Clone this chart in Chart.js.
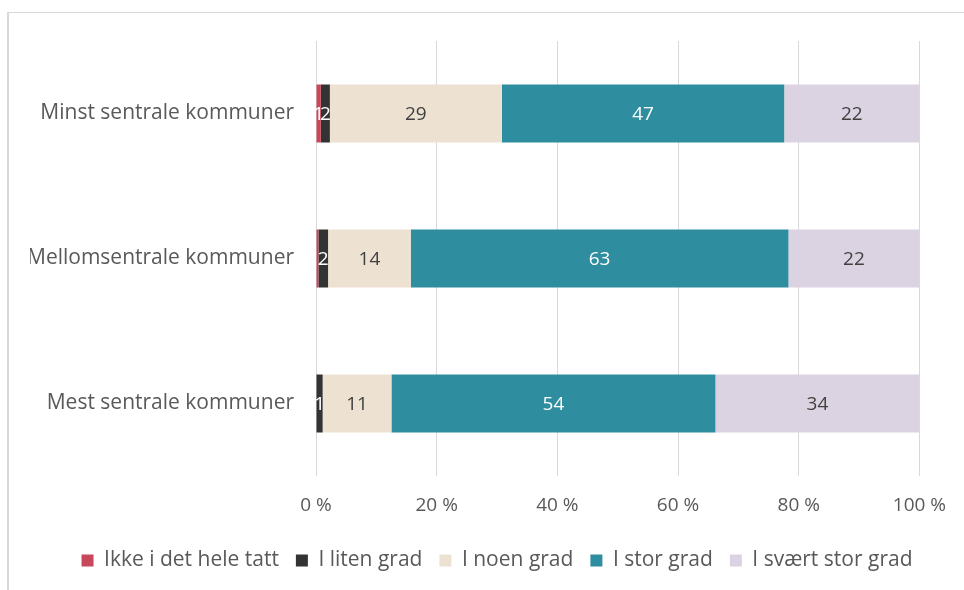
<!DOCTYPE html>
<html>
<head>
<meta charset="utf-8">
<script src="https://cdn.jsdelivr.net/npm/chart.js@4"></script>
<style>
  html, body { margin: 0; padding: 0; background: #fff; }
  .frame {
    position: absolute; left: 7px; top: 12px; width: 1000px; height: 640px;
    border: 1px solid #d9d9d9; border-width: 1px 0 0 2px;
  }
  #chart { position: absolute; left: 0; top: 0; }
</style>
</head>
<body>
<div class="frame"></div>
<canvas id="chart" width="964" height="590"></canvas>
<script>
const categories = ['Minst sentrale kommuner', 'Mellomsentrale kommuner', 'Mest sentrale kommuner'];
const seriesNames = ['Ikke i det hele tatt', 'I liten grad', 'I noen grad', 'I stor grad', 'I svært stor grad'];
const ikkeIDetHeleTatt = [0.8, 0.4, 0];
const iLitenGrad = [1.5, 1.6, 1.1];
const iNoenGrad = [28.5, 13.7, 11.4];
const iStorGrad = [46.8, 62.6, 53.7];
const iSvaertStorGrad = [22.4, 21.7, 33.8];
const xTicks = [0, 20, 40, 60, 80, 100];

const colors = ['#c9475a', '#333333', '#ede2d2', '#2e8d9e', '#dbd3e1'];
const labelColors = ['#ffffff', '#ffffff', '#404040', '#ffffff', '#404040'];
const FONT = '"Open Sans", Lato, sans-serif';

const allSeries = [ikkeIDetHeleTatt, iLitenGrad, iNoenGrad, iStorGrad, iSvaertStorGrad];

// draws the rounded value in the middle of each segment
const segmentLabels = {
  id: 'segmentLabels',
  afterDatasetsDraw(chart) {
    const ctx = chart.ctx;
    ctx.save();
    ctx.font = '19px ' + FONT;
    ctx.textAlign = 'center';
    ctx.textBaseline = 'middle';
    chart.data.datasets.forEach((ds, i) => {
      chart.getDatasetMeta(i).data.forEach((bar, j) => {
        const v = Math.round(ds.data[j]);
        if (v < 1) return;
        ctx.fillStyle = labelColors[i];
        ctx.fillText(String(v), (bar.x + bar.base) / 2, bar.y + 1);
      });
    });
    ctx.restore();
  }
};

new Chart(document.getElementById('chart'), {
  type: 'bar',
  data: {
    labels: categories,
    datasets: allSeries.map((data, i) => ({
      label: seriesNames[i],
      data: data,
      backgroundColor: colors[i],
      borderWidth: 0,
      categoryPercentage: 1,
      barPercentage: 0.4
    }))
  },
  options: {
    indexAxis: 'y',
    responsive: false,
    animation: false,
    layout: { padding: { top: 41, right: 0, bottom: 9, left: 30 } },
    scales: {
      x: {
        stacked: true,
        min: 0,
        max: 100,
        afterBuildTicks(axis) { axis.ticks = xTicks.map(v => ({ value: v })); },
        afterFit(axis) { axis.height = 57; },
        grid: { color: '#d9d9d9', lineWidth: 1, drawTicks: false },
        border: { display: false },
        ticks: {
          padding: 18,
          color: '#595959',
          font: { family: FONT, size: 19 },
          callback: v => v + ' %'
        }
      },
      y: {
        stacked: true,
        afterFit(axis) { axis.width = 286; },
        grid: { display: false, drawTicks: false },
        border: { display: false },
        ticks: {
          padding: 22,
          color: '#595959',
          font: { family: FONT, size: 21 }
        }
      },
      // empty spacer on the right so the plot ends at 100 % like the original
      yRight: {
        type: 'category',
        position: 'right',
        afterFit(axis) { axis.width = 44; },
        grid: { display: false, drawTicks: false },
        border: { display: false },
        ticks: { display: false }
      }
    },
    plugins: {
      legend: {
        position: 'bottom',
        labels: {
          color: '#595959',
          font: { family: FONT, size: 21 },
          boxWidth: 12,
          boxHeight: 12,
          padding: 17
        }
      },
      tooltip: { enabled: false }
    }
  },
  plugins: [segmentLabels]
});
</script>
</body>
</html>
